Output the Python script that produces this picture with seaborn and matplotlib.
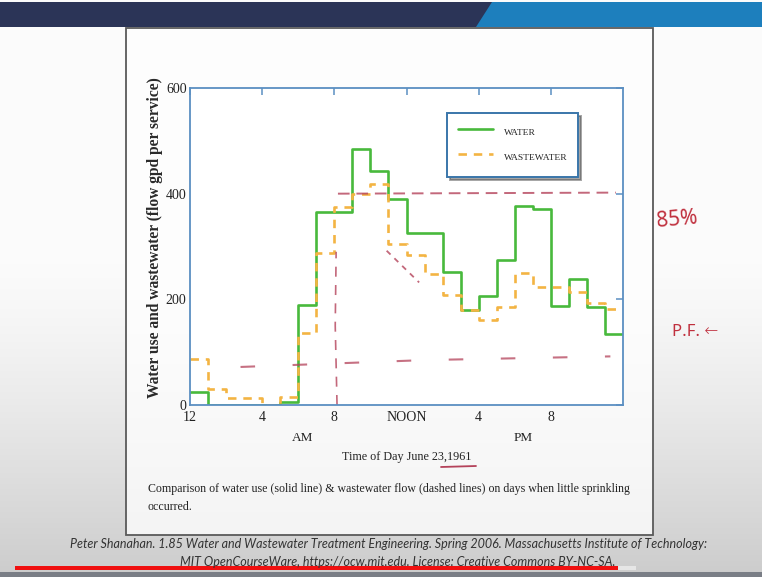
import numpy as np
import pandas as pd
import matplotlib
matplotlib.use("Agg")
import matplotlib.pyplot as plt
from matplotlib.patches import Rectangle, Polygon
from matplotlib.lines import Line2D
import seaborn as sns

# ---------------- data ----------------
hours = list(range(0, 25))  # hour edges, 12 AM .. 12 AM next day
water = [25, 0, 0, 0, 0, 6, 190, 365, 365, 484, 443, 390, 325, 325,
         251, 180, 207, 275, 376, 371, 188, 239, 186, 134]
wastewater = [87, 30, 13, 13, 0, 15, 137, 288, 375, 400, 418, 305, 283, 248,
              209, 180, 160, 185, 249, 223, 223, 213, 194, 182]
tick_hours = [0, 4, 8, 12, 16, 20]
tick_labels = ["12", "4", "8", "NOON", "4", "8"]
y_ticks = [0, 200, 400, 600]
series_names = ["WATER", "WASTEWATER"]

# hand-drawn annotation guide lines (approximate)
ann_upper_x = [8.2, 23.6]
ann_upper_y = [400, 402]
ann_lower_x = [2.8, 13.0, 23.3]
ann_lower_y = [72, 85, 92]
ann_vert_x = [8.15, 8.05, 8.1]
ann_vert_y = [0, 150, 290]
ann_drop_x = [10.9, 12.7]
ann_drop_y = [292, 232]

df = pd.DataFrame({
    "hour": hours * 2,
    "flow": water + [water[-1]] + wastewater + [wastewater[-1]],
    "series": [series_names[0]] * 25 + [series_names[1]] * 25,
})

# ---------------- figure ----------------
sns.set_theme(style="white")
plt.rcParams["font.family"] = ["Liberation Serif", "DejaVu Serif"]

W, H = 762, 577
fig = plt.figure(figsize=(W / 100, H / 100), dpi=100)

# slide background gradient
bg = fig.add_axes([0, 0, 1, 1], zorder=-10)
grad = np.linspace(0, 1, 256)[:, None]
top_c = np.array([0.985, 0.985, 0.985])
bot_c = np.array([0.80, 0.80, 0.80])
ramp = np.clip((grad - 0.45) / 0.55, 0, 1) ** 1.3
img = top_c[None, None, :] * (1 - ramp[..., None]) + bot_c[None, None, :] * ramp[..., None]
img = np.repeat(img, 4, axis=1)
bg.imshow(img, aspect="auto", extent=[0, 1, 0, 1], origin="upper")
bg.set_xlim(0, 1)
bg.set_ylim(0, 1)
bg.axis("off")

def fx(px):
    return px / W

def fy(py):
    return 1 - py / H

# header band
bg.add_patch(Rectangle((0, fy(27)), 1, fy(2) - fy(27), color="#2b3457", lw=0))
bg.add_patch(Polygon([(fx(492), fy(2)), (1, fy(2)), (1, fy(27)), (fx(476), fy(27))],
                     closed=True, color="#1d7fbd", lw=0))
# bottom dark strip
bg.add_patch(Rectangle((0, 0), 1, fy(572), color="#7a7e86", lw=0))

# chart panel
bg.add_patch(Rectangle((fx(126), fy(535)), fx(653) - fx(126), fy(28) - fy(535),
                       facecolor="white", alpha=0.75, edgecolor="none"))
bg.add_patch(Rectangle((fx(126), fy(535)), fx(653) - fx(126), fy(28) - fy(535),
                       facecolor="none", edgecolor="#5a5a5a", lw=1.3))

# main axes
ax = fig.add_axes([fx(190), fy(405), fx(623) - fx(190), fy(88) - fy(405)])
ax.set_facecolor("white")
sns.lineplot(data=df, x="hour", y="flow", hue="series", style="series",
             palette={"WATER": "#48b93c", "WASTEWATER": "#f3b443"},
             dashes={"WATER": "", "WASTEWATER": (3.2, 2.6)},
             drawstyle="steps-post", linewidth=1.9, ax=ax, legend=False)

# hand-drawn red annotations
red = "#b4425a"
ax.plot(ann_upper_x, ann_upper_y, color=red, lw=1.4, alpha=0.8, dashes=(6, 3.5))
ax.plot(ann_lower_x, ann_lower_y, color=red, lw=1.5, alpha=0.75, dashes=(7, 18))
ax.plot(ann_vert_x, ann_vert_y, color=red, lw=1.2, alpha=0.8, dashes=(6, 5))
ax.plot(ann_drop_x, ann_drop_y, color=red, lw=1.3, alpha=0.8, dashes=(3, 3))

ax.set_xlim(0, 24)
ax.set_ylim(0, 600)
ax.set_xticks(tick_hours)
ax.set_xticklabels(tick_labels)
ax.set_yticks(y_ticks)
ax.set_xlabel("")
ax.set_ylabel("")
spine_c = "#5b8fc2"
for s in ax.spines.values():
    s.set_color(spine_c)
    s.set_linewidth(1.3)
ax.tick_params(axis="both", direction="in", length=5, width=1.1, color=spine_c,
               top=True, right=True, labelsize=10, labelcolor="#222222")
ax.tick_params(axis="y", pad=2.5)
ax.tick_params(axis="x", pad=4)

# legend
handles = [Line2D([], [], color="#48b93c", lw=1.9),
           Line2D([], [], color="#f3b443", lw=1.9, dashes=(3.2, 2.6))]
leg = ax.legend(handles, series_names, loc="upper left",
                bbox_to_anchor=(0.594, 0.921), frameon=True, fancybox=False,
                shadow=True, fontsize=6.8, handlelength=3.7, handletextpad=1.2,
                handleheight=2.6, labelspacing=0.7, borderpad=1.1,
                borderaxespad=0)
leg.get_frame().set_edgecolor("#3a76aa")
leg.get_frame().set_linewidth(1.4)
for t in leg.get_texts():
    t.set_color("#222222")

# axis texts
fig.text(fx(155), fy(238), "Water use and wastewater (flow gpd per service)",
         rotation=90, ha="center", va="center", fontsize=11.2, fontweight="bold",
         color="#2a2a2a")
fig.text(fx(303), fy(438), "AM", ha="center", va="center", fontsize=9.5, color="#222")
fig.text(fx(523), fy(438), "PM", ha="center", va="center", fontsize=9.5, color="#222")
fig.text(fx(407), fy(457), "Time of Day June 23,1961", ha="center", va="center",
         fontsize=8.7, color="#222")
fig.add_artist(Line2D([fx(441), fx(476)], [fy(467), fy(466)], color=red, lw=1.3))
fig.text(fx(148), fy(489),
         "Comparison of water use (solid line) & wastewater flow (dashed lines) on days when little sprinkling",
         ha="left", va="center", fontsize=8.6, color="#222")
fig.text(fx(148), fy(507), "occurred.", ha="left", va="center", fontsize=8.6, color="#222")

# handwritten side notes
fig.text(fx(677), fy(220), "85%", ha="center", va="center", fontsize=15,
         color="#c0303e", family=["Noto Sans", "DejaVu Sans"], fontweight="light",
         rotation=5)
fig.text(fx(695), fy(332), "P.F. \u2190", ha="center", va="center", fontsize=12,
         color="#c0303e", family=["Noto Sans", "DejaVu Sans"], fontweight="light")

# footer
fig.text(fx(389), fy(544),
         "Peter Shanahan. 1.85 Water and Wastewater Treatment Engineering. Spring 2006. Massachusetts Institute of Technology:",
         ha="center", va="center", fontsize=9, style="italic", color="#333",
         family=["Lato", "DejaVu Sans"])
fig.text(fx(398), fy(562),
         "MIT OpenCourseWare, https://ocw.mit.edu. License: Creative Commons BY-NC-SA.",
         ha="center", va="center", fontsize=9, style="italic", color="#333",
         family=["Lato", "DejaVu Sans"])
# video progress bar
fig.add_artist(Rectangle((fx(618), fy(570)), fx(636) - fx(618), fy(566) - fy(570),
                         color="#e6e6e6", lw=0))
fig.add_artist(Rectangle((fx(15), fy(570)), fx(618) - fx(15), fy(566) - fy(570),
                         color="#f01010", lw=0))

fig.savefig("out.png", dpi=100)
